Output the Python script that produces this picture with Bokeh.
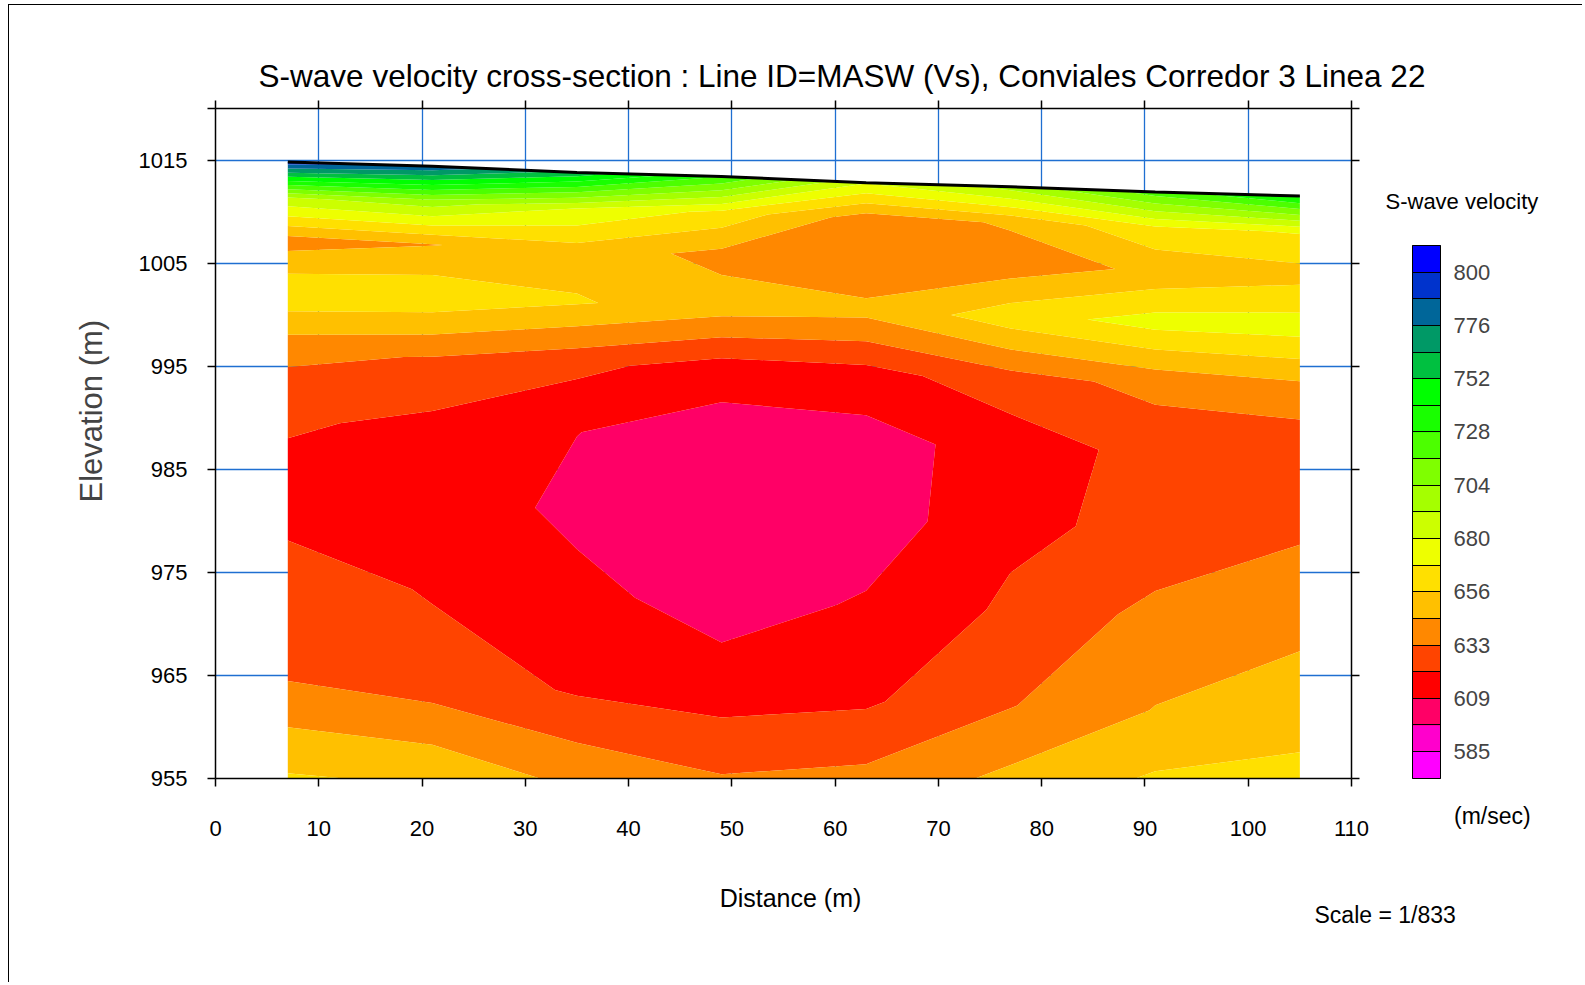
import numpy as np
from bokeh.plotting import figure
from bokeh.models import (LinearAxis, FixedTicker, Label, ColorBar, Title,
                          LinearColorMapper, Range1d)
from bokeh.embed import file_html
from bokeh.resources import INLINE

# ---------------- data ----------------
distance = [7, 21, 35, 49, 63, 77, 91, 105]                       # m
surface_elev = [1014.8, 1014.4, 1013.8, 1013.4, 1012.8, 1012.4, 1011.9, 1011.5]
node_depth = [0.0, 3.5, 7.6, 12.6, 18.6, 25.2, 32.7, 41.1, 50.3, 60.5]

# S-wave velocity (m/s) at each node depth, one list per station
vs_7   = [794, 690, 639.0, 666.0, 635, 622.5, 614.0, 628.0, 632.5, 659.6]
vs_21  = [785, 698, 644.0, 665.0, 632, 617.5, 616.9, 619.5, 627.4, 657.3]
vs_35  = [760, 680, 651.0, 657.5, 624, 609.0, 605.5, 612.7, 619.5, 646.0]
vs_49  = [728, 665, 641.0, 650.0, 615, 602.6, 600.0, 603.0, 616.0, 638.0]
vs_63  = [681, 638, 638.0, 647.0, 616, 604.0, 602.0, 610.3, 619.0, 641.7]
vs_77  = [697, 646, 638.0, 663.0, 628, 614.0, 618.0, 622.8, 632.0, 654.0]
vs_91  = [722, 666, 647.0, 673.0, 636, 625.0, 624.0, 636.0, 645.0, 664.7]
vs_105 = [742, 669, 652.0, 674.0, 641, 623.0, 631.0, 643.0, 647.5, 672.3]

levels = [573.0, 585.0, 596.9, 608.8, 620.7, 632.6, 644.5, 656.4, 668.3, 680.2,
          692.1, 704.0, 715.9, 727.8, 739.7, 751.6, 763.5, 775.4, 787.3, 799.2, 811.1]
palette = ["#FF00FF", "#FF00CC", "#FF0066", "#FF0000", "#FF4400", "#FF8800",
           "#FFC000", "#FFE000", "#EEFF00", "#CCFF00", "#A5FF00", "#7FFF00",
           "#4CFF00", "#19FF00", "#00FF00", "#00C040", "#009966", "#006699",
           "#0033CC", "#0000FF"]
cbar_labels = ["585", "609", "633", "656", "680", "704", "728", "752", "776", "800"]

x_ticks = [0, 10, 20, 30, 40, 50, 60, 70, 80, 90, 100, 110]
y_ticks = [955, 965, 975, 985, 995, 1005, 1015]

title_text = "S-wave velocity cross-section : Line ID=MASW (Vs), Conviales Corredor 3 Linea 22"

# ---------------- build ----------------
FONT = "Liberation Sans"
X0, X1, Y0, Y1 = 0, 110, 955, 1020

OX, OY = 9, 5            # page position of the canvas (margin + 1px border)
W, H = 1574, 978
FL, FT, FW, FH = 215, 108, 1136, 670   # frame in page pixels
ML, MT = FL - OX, FT - OY
p = figure(width=W, height=H, x_range=Range1d(X0, X1), y_range=Range1d(Y0, Y1),
           output_backend="svg", toolbar_location=None,
           min_border_left=ML, min_border_top=MT,
           min_border_right=W - ML - FW, min_border_bottom=H - MT - FH,
           background_fill_color="white", border_fill_color="white")
p.styles = {"border-top": "1px solid black", "border-left": "1px solid black",
            "margin-left": "8px", "margin-top": "4px"}
p.outline_line_color = None

bottom_ax = p.below[0]
left_ax = p.left[0]

def dx(px):
    return X0 + (px - FL) * (X1 - X0) / FW
def dy(py):
    return Y1 - (py - FT) * (Y1 - Y0) / FH

# contour field
X2 = np.tile(np.array(distance, dtype=float), (len(node_depth), 1))
Y2 = np.array(surface_elev)[None, :] - np.array(node_depth)[:, None]
Z = np.column_stack([vs_7, vs_21, vs_35, vs_49, vs_63, vs_77, vs_91, vs_105])
p.contour(x=X2, y=Y2, z=Z, levels=levels, fill_color=palette, line_color=None)

# ground surface
p.line(distance, surface_elev, line_color="black", line_width=3)

# grids
p.xgrid.ticker = FixedTicker(ticks=x_ticks[1:-1])
p.ygrid.ticker = FixedTicker(ticks=y_ticks[1:])
for g in (p.xgrid[0], p.ygrid[0]):
    g.grid_line_color = "#1F6FD1"
    g.grid_line_width = 1.3

# axes
y_axis_ticks = y_ticks + [Y1]
bottom_ax.ticker = FixedTicker(ticks=x_ticks)
left_ax.ticker = FixedTicker(ticks=y_axis_ticks)
left_ax.major_label_overrides = {Y1: ""}
top_ax = LinearAxis(ticker=FixedTicker(ticks=x_ticks),
                    major_label_overrides={t: "" for t in x_ticks})
right_ax = LinearAxis(ticker=FixedTicker(ticks=y_axis_ticks),
                      major_label_overrides={t: "" for t in y_axis_ticks})
p.add_layout(top_ax, "above")
p.add_layout(right_ax, "right")
for ax in (bottom_ax, left_ax, top_ax, right_ax):
    ax.axis_line_color = "black"
    ax.axis_line_width = 1.5
    ax.major_tick_line_color = "black"
    ax.major_tick_line_width = 1.5
    ax.major_tick_out = 8
    ax.major_tick_in = 0
    ax.minor_tick_line_color = None
    ax.major_label_text_font = FONT
    ax.major_label_text_font_size = "22px"
    ax.major_label_text_color = "black"
bottom_ax.major_label_standoff = 34
left_ax.major_label_standoff = 20
for ax in (top_ax, right_ax):
    ax.major_label_standoff = 0
    ax.major_label_text_font_size = "1px"

# colour bar
mapper = LinearColorMapper(palette=palette, low=levels[0], high=levels[-1])
overrides = {lv: "" for lv in levels}
for lv, lab in zip(levels[1::2], cbar_labels):
    overrides[lv] = lab
cb = ColorBar(color_mapper=mapper, orientation="vertical", width=28, height=533,
              ticker=FixedTicker(ticks=levels), major_label_overrides=overrides,
              major_label_text_font=FONT, major_label_text_font_size="22px",
              major_tick_line_color="black", major_tick_line_width=1,
              major_tick_in=28, major_tick_out=0, minor_tick_line_color=None,
              bar_line_color="black", bar_line_width=1, label_standoff=13,
              padding=0, margin=0, border_line_color=None,
              background_fill_alpha=0, location=(53, 0))
p.add_layout(cb, "right")

# y axis title (left panel, rotated); starts 276 px above the frame bottom
p.add_layout(Title(text="Elevation (m)", align="left", offset=276,
                   text_font=FONT, text_font_size="31px",
                   text_font_style="normal", standoff=54), "left")

# texts placed in side panels (not clipped to the frame)
def add_text(side, x, y, text, size, align="left"):
    p.add_layout(Label(x=x, y=y, text=text, text_font=FONT,
                       text_font_size=size, text_align=align,
                       text_baseline="middle", text_color="black"), side)

add_text("above", dx(841.5), dy(75.5), title_text, "31.5px", "center")
add_text("above", dx(1385), dy(201), "S-wave velocity", "22px")
add_text("below", dx(790), dy(897.5), "Distance (m)", "25px", "center")
add_text("below", dx(1314), dy(914), "Scale = 1/833", "23px")
add_text("below", dx(1453.5), dy(815), "(m/sec)", "23px")

open("out.html", "w").write(file_html(p, INLINE))
